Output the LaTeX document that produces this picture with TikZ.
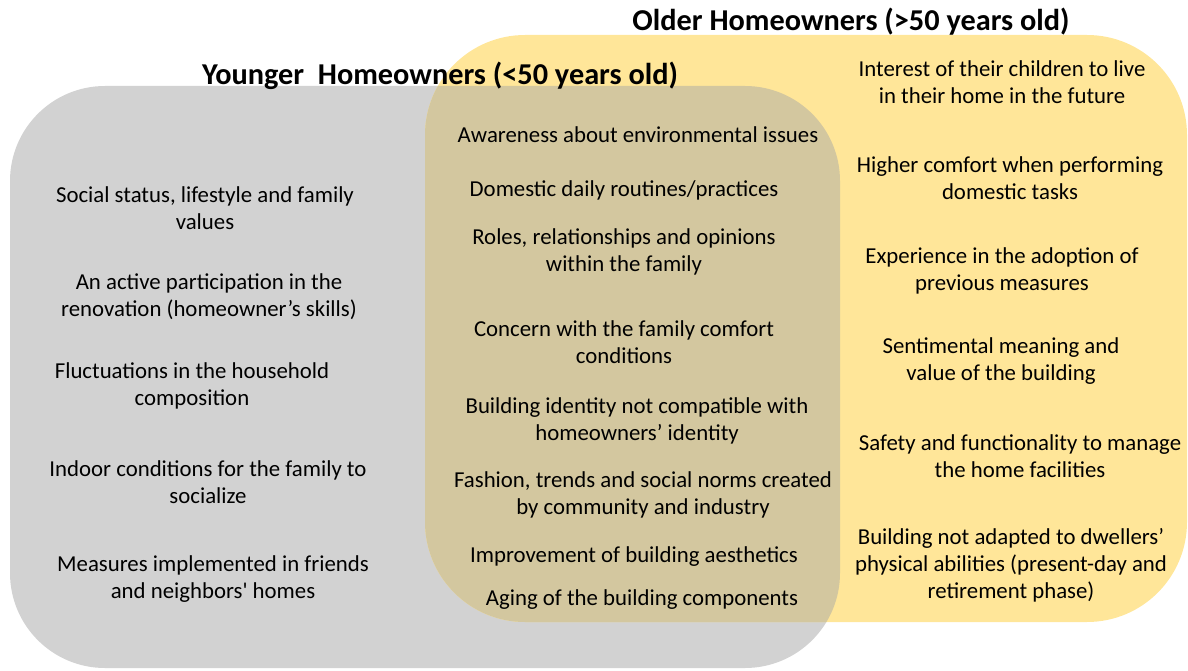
\documentclass[tikz,border=0pt]{standalone}
\usepackage{fontspec}
\setmainfont{Carlito}
\definecolor{greyc}{HTML}{D2D2D2}
\definecolor{yelc}{HTML}{FFE699}
\definecolor{tanc}{HTML}{D3C79F}
\begin{document}
\begin{tikzpicture}[x=1pt,y=-1pt,
  item/.style={align=center, font=\fontsize{22.8}{27}\selectfont, text=black, inner sep=0pt},
  ttl/.style={font=\fontsize{30.3}{34}\selectfont\bfseries, text=black, inner sep=0pt}]
\useasboundingbox (0,0) rectangle (1188,671);
% sets
\fill[greyc, rounded corners=95pt] (10,86) rectangle (840,668);
\fill[yelc, rounded corners=100pt] (425,35) rectangle (1187,622);
\begin{scope}
  \clip[rounded corners=100pt] (425,35) rectangle (1187,622);
  \fill[tanc, rounded corners=95pt] (10,86) rectangle (840,668);
\end{scope}
% titles
\node[ttl] (tOld) at (851,22) {Older Homeowners (>50 years old)};
\node[ttl] (tYoung) at (440,76) {Younger\ \ Homeowners (<50 years old)};
% younger only
\node[item] (y1) at (205,208) {Social status, lifestyle and family\\values};
\node[item] (y2) at (209,297) {An active participation in the\\renovation (homeowner’s skills)};
\node[item] (y3) at (192,386) {Fluctuations in the household\\composition};
\node[item] (y4) at (208,482) {Indoor conditions for the family to\\socialize};
\node[item] (y5) at (213,579) {Measures implemented in friends\\and neighbors\textquotesingle\ homes};
% shared
\node[item] (s1) at (638,135) {Awareness about environmental issues};
\node[item] (s2) at (624,190) {Domestic daily routines/practices};
\node[item] (s3) at (624,252) {Roles, relationships and opinions\\within the family};
\node[item] (s4) at (624,342) {Concern with the family comfort\\conditions};
\node[item] (s5) at (637,421) {Building identity not compatible with\\homeowners’ identity};
\node[item] (s6) at (643,495) {Fashion, trends and social norms created\\by community and industry};
\node[item] (s7) at (634,557) {Improvement of building aesthetics};
\node[item] (s8) at (642,600) {Aging of the building components};
% older only
\node[item] (o1) at (1002,82) {Interest of their children to live\\in their home in the future};
\node[item] (o2) at (1010,178) {Higher comfort when performing\\domestic tasks};
\node[item] (o3) at (1002,271) {Experience in the adoption of\\previous measures};
\node[item] (o4) at (1001,361) {Sentimental meaning and\\value of the building};
\node[item] (o5) at (1020,456) {Safety and functionality to manage\\the home facilities};
\node[item] (o6) at (1011,565) {Building not adapted to dwellers’\\physical abilities (present-day and\\retirement phase)};
\end{tikzpicture}
\end{document}
